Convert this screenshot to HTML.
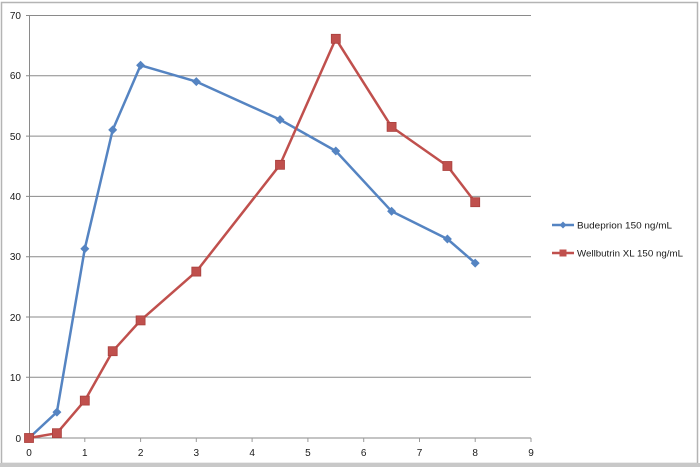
<!DOCTYPE html>
<html><head><meta charset="utf-8"><style>
html,body{margin:0;padding:0;background:#fff;}
svg{display:block;}
text{font-family:"Liberation Sans",sans-serif;fill:#1a1a1a;}
</style></head><body>
<svg width="700" height="467" viewBox="0 0 700 467" xmlns="http://www.w3.org/2000/svg">
<rect x="0" y="0" width="700" height="467" fill="#fff"/>
<rect x="1.5" y="2.5" width="696" height="461" fill="none" stroke="#b4b4b4" stroke-width="1.5"/>
<rect x="0" y="463" width="700" height="4" fill="#c8c8c8"/>
<g stroke="#8a8a8a" stroke-width="1">
<line x1="26" y1="15.5" x2="531" y2="15.5"/>
<line x1="26" y1="75.8" x2="531" y2="75.8"/>
<line x1="26" y1="136.1" x2="531" y2="136.1"/>
<line x1="26" y1="196.4" x2="531" y2="196.4"/>
<line x1="26" y1="256.7" x2="531" y2="256.7"/>
<line x1="26" y1="317" x2="531" y2="317"/>
<line x1="26" y1="377.3" x2="531" y2="377.3"/>
<line x1="26" y1="438" x2="531" y2="438"/>
<line x1="29.5" y1="15" x2="29.5" y2="441"/>
</g>
<g stroke="#9a9a9a" stroke-width="1">
<line x1="84.8" y1="438" x2="84.8" y2="442"/>
<line x1="140.6" y1="438" x2="140.6" y2="442"/>
<line x1="196.3" y1="438" x2="196.3" y2="442"/>
<line x1="252.1" y1="438" x2="252.1" y2="442"/>
<line x1="307.9" y1="438" x2="307.9" y2="442"/>
<line x1="363.7" y1="438" x2="363.7" y2="442"/>
<line x1="419.5" y1="438" x2="419.5" y2="442"/>
<line x1="475.2" y1="438" x2="475.2" y2="442"/>
<line x1="531" y1="438" x2="531" y2="442"/>
</g>
<g font-size="10" text-anchor="end">
<text x="21" y="19">70</text>
<text x="21" y="79">60</text>
<text x="21" y="140">50</text>
<text x="21" y="200">40</text>
<text x="21" y="260">30</text>
<text x="21" y="321">20</text>
<text x="21" y="381">10</text>
<text x="21" y="442">0</text>
</g>
<g font-size="10" text-anchor="middle">
<text x="29" y="456">0</text>
<text x="84.8" y="456">1</text>
<text x="140.6" y="456">2</text>
<text x="196.3" y="456">3</text>
<text x="252.1" y="456">4</text>
<text x="307.9" y="456">5</text>
<text x="363.7" y="456">6</text>
<text x="419.5" y="456">7</text>
<text x="475.2" y="456">8</text>
<text x="531" y="456">9</text>
</g>
<polyline fill="none" stroke="#5584c2" stroke-width="2.5" stroke-linejoin="round" points="29,438 56.9,412.1 84.8,248.7 112.7,129.9 140.6,65.3 196.3,81.6 280,119.6 335.8,151 391.6,211.3 447.4,239 475.2,263.1"/>
<polyline fill="none" stroke="#c0504d" stroke-width="2.5" stroke-linejoin="round" points="29,438 56.9,433.2 84.8,400.6 112.7,351.2 140.6,320.4 196.3,271.6 280,164.8 335.8,38.8 391.6,126.9 447.4,166 475.2,202.2"/>
<g fill="#5584c2">
<polygon points="29,433.5 33.5,438 29,442.5 24.5,438"/>
<polygon points="56.9,407.6 61.4,412.1 56.9,416.6 52.4,412.1"/>
<polygon points="84.8,244.2 89.3,248.7 84.8,253.2 80.3,248.7"/>
<polygon points="112.7,125.4 117.2,129.9 112.7,134.4 108.2,129.9"/>
<polygon points="140.6,60.8 145.1,65.3 140.6,69.8 136.1,65.3"/>
<polygon points="196.3,77.1 200.8,81.6 196.3,86.1 191.8,81.6"/>
<polygon points="280,115.1 284.5,119.6 280,124.1 275.5,119.6"/>
<polygon points="335.8,146.5 340.3,151 335.8,155.5 331.3,151"/>
<polygon points="391.6,206.8 396.1,211.3 391.6,215.8 387.1,211.3"/>
<polygon points="447.4,234.5 451.9,239 447.4,243.5 442.9,239"/>
<polygon points="475.2,258.6 479.7,263.1 475.2,267.6 470.7,263.1"/>
</g>
<g fill="#c0504d" stroke="#a9403d" stroke-width="0.8">
<rect x="24.5" y="433.5" width="9" height="9"/>
<rect x="52.4" y="428.7" width="9" height="9"/>
<rect x="80.3" y="396.1" width="9" height="9"/>
<rect x="108.2" y="346.7" width="9" height="9"/>
<rect x="136.1" y="315.9" width="9" height="9"/>
<rect x="191.8" y="267.1" width="9" height="9"/>
<rect x="275.5" y="160.3" width="9" height="9"/>
<rect x="331.3" y="34.3" width="9" height="9"/>
<rect x="387.1" y="122.4" width="9" height="9"/>
<rect x="442.9" y="161.5" width="9" height="9"/>
<rect x="470.7" y="197.7" width="9" height="9"/>
</g>
<line x1="552" y1="225" x2="574" y2="225" stroke="#5584c2" stroke-width="2.5"/>
<polygon points="563,221.5 566.5,225 563,228.5 559.5,225" fill="#5584c2"/>
<text x="577" y="228.5" font-size="9.5" textLength="95" lengthAdjust="spacingAndGlyphs">Budeprion 150  ng/mL</text>
<line x1="552" y1="253" x2="574" y2="253" stroke="#c0504d" stroke-width="2.5"/>
<rect x="559.5" y="249.5" width="7" height="7" fill="#c0504d"/>
<text x="577" y="256.5" font-size="9.5" textLength="106" lengthAdjust="spacingAndGlyphs">Wellbutrin XL 150 ng/mL</text>
</svg>
</body></html>
